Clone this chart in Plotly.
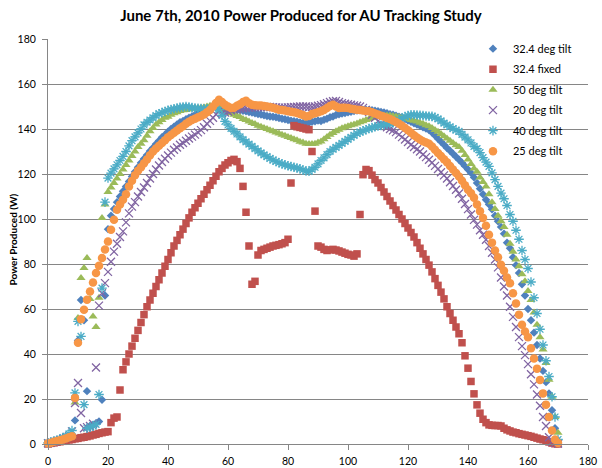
import plotly.graph_objects as go

# x positions of samples (one per reading)
sample = list(range(171))

tilt_32_4 = [
    0.5, 0.8, 1.1, 1.4, 1.7, 2.0, 2.3, 2.6, 3.0, 10.5,
    46, 64, 55, 23.5, 8, 8.5, 9.2, 10, 19.7, 66,
    95.5, 101.5, 104.5, 107.5, 110, 112.3, 114.5, 116.7, 118.9, 121,
    123, 125, 126.8, 128.5, 130.2, 131.7, 133.3, 134.8, 136.3, 137.5,
    138.8, 140, 141, 142, 143, 143.6, 144.3, 145, 145.6, 146.3,
    147, 147.6, 148.2, 148.8, 149.4, 150, 150.5, 151, 150.5, 149.8,
    149.3, 149, 148.7, 148.5, 148.3, 148.1, 147.9, 147.6, 147.3, 147,
    146.7, 146.4, 146.1, 145.8, 145.6, 145.4, 145.2, 144.9, 144.6, 144.3,
    144, 143.7, 143.4, 143.2, 142.9, 142.7, 142.5, 142.8, 143.2, 143.4,
    143.8, 143.6, 144.1, 144.6, 145.2, 145.6, 146.2, 146.6, 146.9, 147.1,
    147.4, 147.7, 148, 148.2, 148.4, 148.5, 148.6, 148.5, 148.3, 148.1,
    147.9, 147.6, 147.3, 147, 146.6, 146.3, 145.9, 145.5, 145, 144.4,
    143.8, 143.2, 142.6, 142, 141.4, 140.8, 140.2, 139.6, 138.4, 137.1,
    135.7, 134.3, 133, 131.6, 130.3, 129, 127.7, 126.3, 125, 123.5,
    122, 120.5, 118.5, 116, 113.5, 111, 108.6, 106.5, 104.3, 101.5,
    99, 96.5, 93.5, 89.5, 87, 83, 79.5, 76, 71, 66,
    60, 55, 49.5, 44, 38, 32.5, 27.5, 22.5, 15, 7, 1.5,
]

fixed_32_4 = [
    0, 0.3, 0.5, 0.8, 1, 1.2, 1.5, 1.8, 2, 2.3,
    2.5, 2.8, 3, 3.3, 3.6, 4, 4.3, 4.7, 5, 5.3,
    5.5, 9.5, 11.5, 12, 24, 33, 36.5, 40, 43.5, 47,
    50.5, 54, 57.5, 61, 64, 67, 70, 73, 76, 79,
    82, 85, 88, 90.5, 93, 95.5, 98, 100.5, 103, 105,
    107, 109, 111, 113, 115, 117, 119, 121, 122.5, 124,
    125, 126, 126.5, 125.5, 122.5, 114.5, 103, 88, 71, 72.3,
    84, 86, 86.5, 87, 87.5, 88, 88.3, 88.6, 89, 89.5,
    91, 116, 141.5, 141, 140.7, 140.4, 140, 139.7, 130, 103.5,
    88, 87.5, 86.5, 86, 86.3, 86.5, 86.2, 85.8, 85.3, 84.8,
    84.3, 84, 83.5, 84.5, 102, 119.7, 122, 121.5, 119.5, 117.5,
    116, 114, 112, 110, 108, 106, 104, 102, 100, 98,
    96, 94, 92, 89.5, 87, 84.5, 82, 79.5, 76.5, 73.5,
    70.5, 67.5, 64.5, 61, 58, 55, 52, 49, 45, 39.2,
    33.7, 27.8, 22.3, 17.4, 13.7, 11, 9.5, 8.5, 8.3, 8.2,
    8.2, 8, 7, 6.3, 5.8, 5.3, 5, 4.6, 4.3, 4,
    3.7, 3.4, 3, 2.6, 2.2, 1.9, 1.5, 0.9, 0.4, 0.1, 0,
]

tilt_50 = [
    0.4, 0.8, 1.2, 1.6, 2.0, 2.3, 2.7, 3.0, 3.4, 18.5,
    56, 73.8, 78.2, 82.7, 64.5, 56.7, 52, 65, 100.4, 106.5,
    112, 114, 116, 118, 120, 122, 124, 126, 128, 130,
    132, 133.5, 135, 137, 139, 140.5, 142, 143, 144, 145,
    145.5, 146.3, 147, 147.5, 148, 148.3, 148.5, 148.8, 149, 149.2,
    149.3, 149.5, 149.7, 150, 150.3, 150.5, 150, 149.5, 148.5, 148,
    147.5, 147, 146.3, 145.8, 145.3, 144.5, 144, 143.3, 142.7, 142.2,
    141.5, 141, 140.5, 140, 139.5, 139, 138.5, 138, 137.5, 137,
    136.5, 136, 135.5, 135, 134.3, 134, 133.5, 133.3, 133.3, 133.5,
    134, 134.5, 135.5, 136.5, 137.5, 138.2, 139, 139.7, 140.3, 140.8,
    141.2, 141.7, 142, 142.5, 143, 143.4, 144, 144.4, 144.9, 145.3,
    145.5, 145.8, 146, 146, 146, 145.8, 145.6, 145.3, 145.1, 144.9,
    144.5, 144, 143.7, 143.3, 142.8, 142.3, 141.7, 141.2, 140.4, 139.6,
    138.8, 137.8, 136.8, 135.8, 134.8, 133.8, 132.8, 132, 130.3, 128.5,
    126.5, 124.5, 122.5, 121, 118.5, 116.5, 114.5, 111, 107.5, 104.5,
    101.5, 99, 96.5, 93, 89, 85.5, 82, 79, 75.5, 72.3,
    68, 64, 58.5, 53, 47.5, 42, 36, 28.6, 21, 12, 5,
]

tilt_20 = [
    0.3, 0.6, 1.0, 1.3, 1.7, 2.2, 2.8, 3.5, 5.6, 18.2,
    27.1, 13.8, 7, 7.5, 8, 9, 34, 61.5, 67, 71.5,
    76.5, 81, 85.5, 89, 92, 94.5, 98.5, 102.5, 105.5, 107.5,
    110, 112, 114, 116, 118, 120, 122, 123.8, 125.3, 126.8,
    128.2, 129.5, 130.8, 131.8, 133, 133.8, 134.8, 135.8, 136.6, 137.5,
    138.5, 139.5, 140.8, 142.3, 143.6, 145, 146.5, 148, 147, 147.3,
    147.8, 148.3, 148.6, 148.8, 149, 149.2, 149.4, 149.5, 149.6, 149.7,
    149.8, 149.8, 149.8, 149.8, 149.8, 149.7, 149.6, 149.5, 149.5, 149.5,
    149.6, 149.7, 149.8, 149.9, 150, 150, 150, 149.8, 149.8, 150,
    150.3, 150.6, 151, 151.5, 152, 152.3, 152.5, 152, 151.5, 151.2,
    151, 150.8, 150.5, 150.3, 150, 149.4, 148.5, 147.5, 146.3, 145,
    143.5, 142.3, 141.5, 140.8, 140, 139.4, 138.6, 137.5, 136.4, 135.3,
    134.2, 133, 132, 131, 130, 128.7, 127.5, 126.3, 125, 123.6,
    122.2, 120.8, 119.4, 118, 116.3, 114.7, 113, 111.3, 109, 106.7,
    104.4, 102, 99.6, 97.5, 95, 93, 90.8, 88, 85, 82,
    78.5, 74, 70, 66, 61, 56.5, 52, 47.5, 43.5, 39.5,
    35.5, 31, 26.5, 22, 17, 12, 8, 3, 1, 0.5, 0.2,
]

tilt_40 = [
    0.5, 0.9, 1.3, 1.7, 2.2, 2.8, 3.5, 4.5, 6, 22.7,
    54.5, 47.8, 17.5, 7, 7.5, 8, 8.7, 22, 69.3, 107.5,
    118.2, 120.4, 122.3, 124.1, 126, 127.8, 130, 132.5, 134.8, 136.5,
    138.3, 140, 141.8, 143, 144, 145, 146, 146.8, 147.3, 147.8,
    148.3, 148.7, 149, 149.3, 149.6, 149.8, 150, 149.8, 149.5, 149.3,
    149.2, 149.1, 149, 149, 149.2, 149.5, 149.4, 148.6, 146, 143.4,
    141.8, 140.3, 139, 137.8, 136.5, 135.3, 134.3, 133.3, 132.3, 131.3,
    130.3, 129.4, 128.5, 127.7, 126.9, 126.2, 125.6, 125, 124.5, 124.1,
    123.7, 123.3, 123, 122.7, 122.3, 121.8, 121.3, 121.2, 122, 123,
    124.5, 126, 127.2, 128.6, 130, 131, 131.8, 132.7, 133.6, 134.5,
    135.4, 136.3, 137.2, 138, 138.6, 139.2, 139.7, 140.2, 140.6, 141,
    141.3, 141.6, 141.9, 142.1, 142.4, 142.8, 143.3, 144, 144.8, 145.5,
    146, 146.3, 146.3, 146.2, 146.1, 146, 145.8, 145.7, 145.6, 145.2,
    144.5, 143.6, 142.6, 141.8, 141, 140.2, 139.5, 138.9, 137.6, 136.4,
    135.2, 133.8, 132.3, 131.3, 129.5, 127.3, 125.3, 123.4, 120.5, 117.5,
    114.5, 111.5, 109, 106, 102, 99, 95, 91, 86, 82,
    78, 72, 65, 58, 51, 44, 37, 30, 21, 12, 2,
]

tilt_25 = [
    0.3, 0.6, 1.0, 1.3, 1.7, 2.0, 2.5, 3.0, 3.5, 20.5,
    45, 55.5, 59.7, 64.1, 67.8, 71.8, 76, 79.2, 82.7, 86.4,
    90, 95.2, 99.7, 104.1, 106.5, 108.6, 111, 114.5, 117, 119.5,
    121.5, 123, 124.8, 126.5, 128.3, 130, 131.3, 132.6, 133.8, 135,
    136.3, 137.3, 138.3, 139.3, 140.3, 141.2, 142.3, 143.2, 144, 144.6,
    145.2, 145.8, 146.5, 147.5, 148.5, 150, 151.6, 153, 152, 150.8,
    150, 149.3, 149.5, 150.3, 151, 152, 152.6, 151.5, 150.8, 150.6,
    150.5, 150.4, 150.2, 150, 149.8, 149.4, 149, 148.6, 148.4, 148.2,
    147.9, 147.7, 147.5, 147.1, 146.7, 146.2, 145.6, 145.8, 146.7, 147,
    147.4, 147.9, 148.5, 149.3, 150.2, 150.8, 150, 149.3, 149.5, 149.4,
    149.3, 149, 148.8, 148.6, 148.4, 148.2, 148, 147.9, 147.4, 146.9,
    146.4, 145.9, 145.4, 144.9, 144.4, 143.8, 143.1, 142.3, 141.4, 140.4,
    139.4, 138.3, 137.2, 136.2, 135.3, 134.6, 134, 133.4, 132.2, 130.8,
    129.3, 128, 126.6, 125.2, 123.6, 122, 120.4, 118.9, 117, 115,
    113, 111.5, 109.5, 106.5, 103.5, 100.5, 97, 93, 89.5, 86,
    83, 79.7, 77, 74, 71.5, 67, 62.5, 57.5, 53, 50,
    47.5, 42.6, 38, 33.5, 28.5, 22.5, 17.5, 12, 6, 2, 0.5,
]

series_names = ["32.4 deg tilt", "32.4 fixed", "50 deg tilt", "20 deg tilt", "40 deg tilt", "25 deg tilt"]
x_ticks = [0, 20, 40, 60, 80, 100, 120, 140, 160, 180]
y_ticks = [0, 20, 40, 60, 80, 100, 120, 140, 160, 180]

series_values = [tilt_32_4, fixed_32_4, tilt_50, tilt_20, tilt_40, tilt_25]
colors = ["#4F81BD", "#C0504D", "#9BBB59", "#8064A2", "#4BACC6", "#F79646"]
markers = [
    dict(symbol="diamond", size=6.5),
    dict(symbol="square", size=7.5),
    dict(symbol="triangle-up", size=8),
    dict(symbol="x-thin", size=8),
    dict(symbol="asterisk", size=8),
    dict(symbol="circle", size=8.5),
]

fig = go.Figure()
for i, (name, vals, col, mk) in enumerate(zip(series_names, series_values, colors, markers)):
    if mk["symbol"] in ("x-thin", "asterisk"):
        marker = dict(symbol=mk["symbol"], size=mk["size"], color=col,
                      line=dict(color=col, width=1.3))
    else:
        marker = dict(symbol=mk["symbol"], size=mk["size"], color=col,
                      line=dict(width=0))
    fig.add_trace(go.Scatter(x=sample, y=vals, mode="markers", name=name,
                             legendgroup="g%d" % i,
                             marker=marker, cliponaxis=False))

axis_col = "#868686"
fig.update_layout(
    width=602, height=468,
    margin=dict(l=48, r=14, t=39, b=24, autoexpand=False),
    plot_bgcolor="white", paper_bgcolor="white",
    font=dict(family="Lato", size=11, color="#000000"),
    title=dict(text="<b>June 7th, 2010 Power Produced for AU Tracking Study</b>",
               x=0.5, xanchor="center", y=0.966, yanchor="middle",
               font=dict(size=15, color="#000000")),
    xaxis=dict(range=[0, 180], tickvals=x_ticks, showgrid=False, zeroline=False,
               showline=True, linecolor=axis_col, linewidth=1,
               ticks="outside", ticklen=5, tickcolor=axis_col,
               ticklabelstandoff=2, automargin=False,
               tickfont=dict(size=10.5, color="#000000")),
    yaxis=dict(range=[0, 180], tickvals=y_ticks, showgrid=True, gridcolor=axis_col,
               gridwidth=1, zeroline=False,
               showline=True, linecolor=axis_col, linewidth=1,
               ticks="outside", ticklen=5, tickcolor=axis_col,
               ticklabelstandoff=4, automargin=False,
               tickfont=dict(size=10.5, color="#000000")),
    legend=dict(x=0.787, y=1.012, xanchor="left", yanchor="top",
                bgcolor="rgba(0,0,0,0)", font=dict(size=11, color="#000000"),
                itemwidth=30, traceorder="grouped", tracegroupgap=1.5),
    annotations=[dict(text="<b>Power Produced (W)</b>", textangle=-90,
                      xref="paper", yref="paper", x=(13 - 48) / 540, y=0.505,
                      xanchor="center", yanchor="middle", showarrow=False,
                      font=dict(size=10, color="#000000"))],
)

fig.write_html("out.html", config={"displayModeBar": False},
               post_script="document.body.style.margin='0';")
